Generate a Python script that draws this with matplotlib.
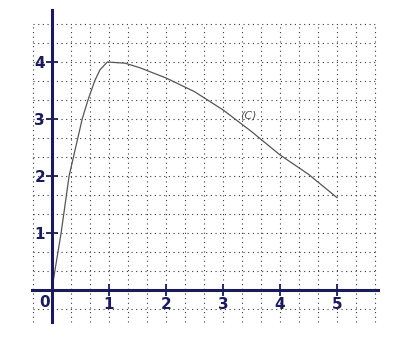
import matplotlib
matplotlib.use("Agg")
import matplotlib.pyplot as plt
import numpy as np

# curve (C)
xs = [0.02, 0.16, 0.30, 0.53, 0.63, 0.75, 0.84, 0.97, 1.28, 1.54, 2.0, 2.5, 3.0, 3.5, 4.0, 4.5, 5.0]
ys = [0.15, 1.0, 2.0, 3.0, 3.33, 3.67, 3.86, 4.0, 3.98, 3.9, 3.72, 3.48, 3.16, 2.78, 2.37, 2.03, 1.62]

xticks = [1, 2, 3, 4, 5]
yticks = [1, 2, 3, 4]
curve_label = "(C)"

navy = "#1b1b5c"

fig = plt.figure(figsize=(3.94, 3.56), dpi=100)
ax = fig.add_axes([0, 0, 1, 1])
ax.set_xlim(-0.912, 6.0)
ax.set_ylim(-1.158, 5.088)

# dotted grid every 1/3 unit
gx = np.arange(-1, 18) / 3
gy = np.arange(-1, 15) / 3
ax.vlines(gx, -0.56, 14 / 3, colors="#3a3a3a", linewidth=0.8,
          linestyles=(0, (1, 3.2)), zorder=1)
ax.hlines(gy, -1 / 3, 17 / 3, colors="#3a3a3a", linewidth=0.8,
          linestyles=(0, (1, 3.2)), zorder=1)

# axes through the origin
for s in ["top", "right"]:
    ax.spines[s].set_visible(False)
ax.spines["left"].set_position(("data", 0))
ax.spines["bottom"].set_position(("data", 0))
ax.spines["left"].set_bounds(-0.56, 4.91)
ax.spines["bottom"].set_bounds(-0.35, 5.72)
for s in ["left", "bottom"]:
    ax.spines[s].set_color(navy)
    ax.spines[s].set_linewidth(2.2)
    ax.spines[s].set_zorder(3)

ax.set_xticks(xticks)
ax.set_yticks(yticks)
ax.tick_params(direction="inout", length=8, width=1.3, color=navy,
               labelcolor=navy, labelsize=11, pad=1)
for lab in ax.get_xticklabels() + ax.get_yticklabels():
    lab.set_fontweight("bold")
ax.text(-0.03, -0.08, "0", ha="right", va="top", color=navy,
        fontsize=11, fontweight="bold")

ax.plot(xs, ys, color="#555555", linewidth=0.9, zorder=2)
ax.text(3.44, 3.07, curve_label, fontsize=8, style="italic",
        color="#555555", ha="center", va="center", zorder=4)

fig.savefig("out.png", dpi=100)
